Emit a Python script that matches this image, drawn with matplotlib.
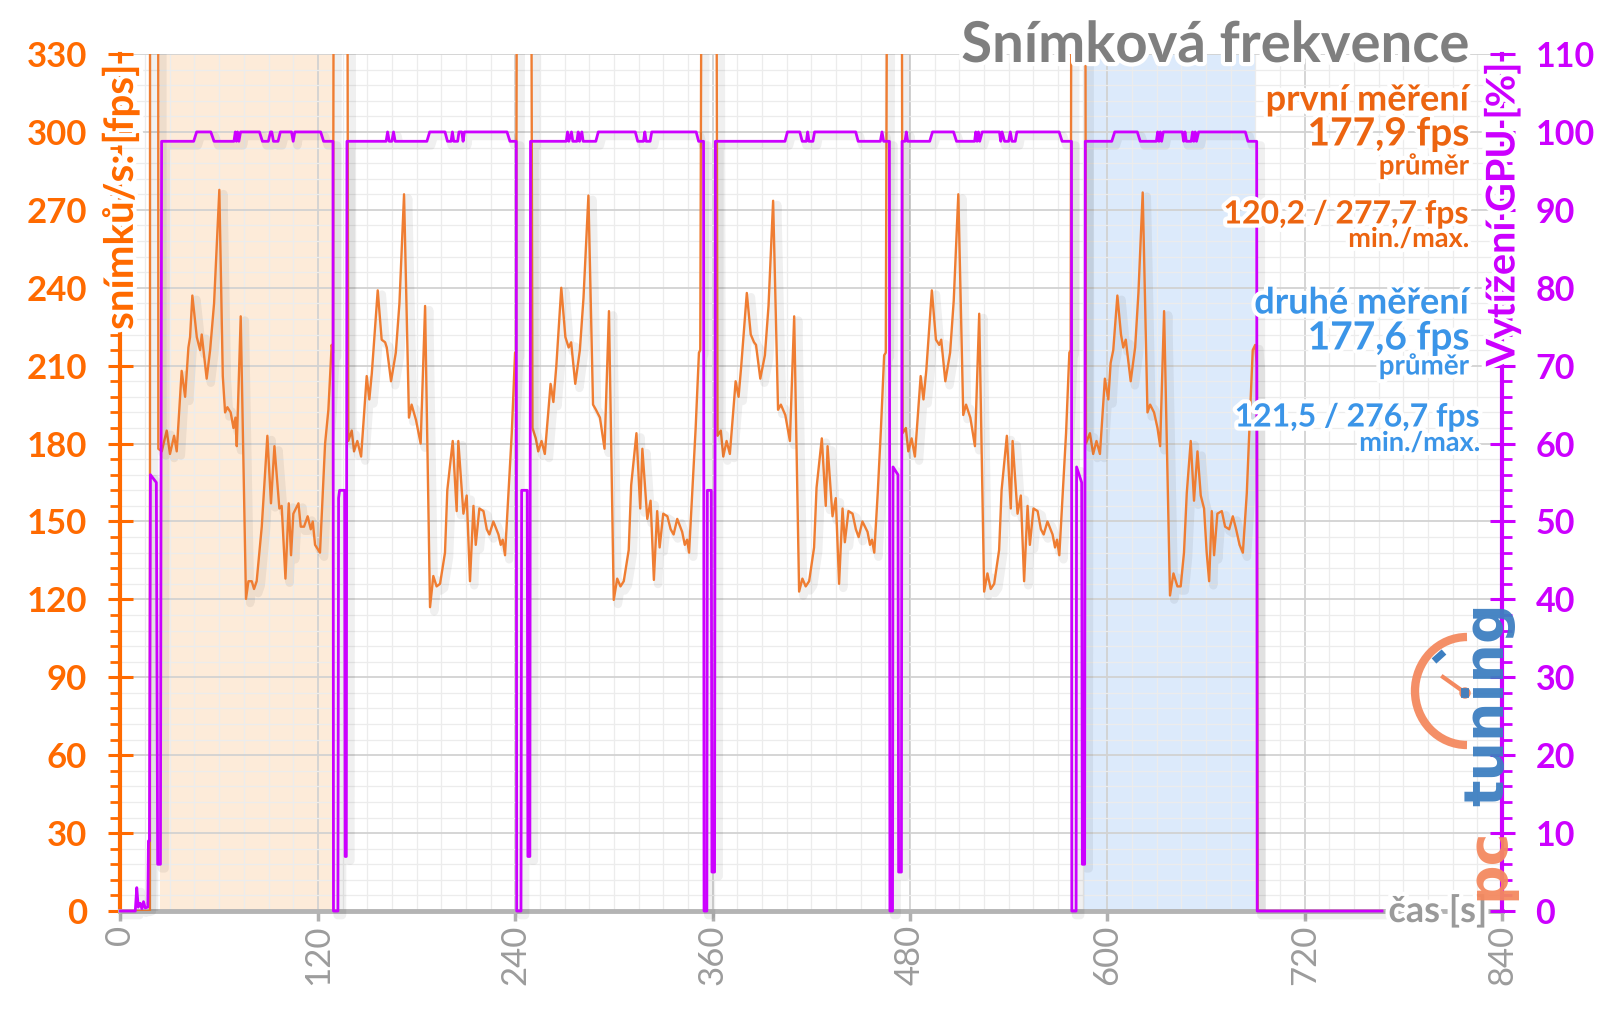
import matplotlib
matplotlib.use("Agg")
import matplotlib.pyplot as plt
import matplotlib.patheffects as pe
import matplotlib.transforms as mtrans
from matplotlib.patches import Arc, Circle
from matplotlib.ticker import MultipleLocator

plt.rcParams['font.family'] = ['Lato', 'DejaVu Sans']

ORANGE = '#ff6a00'
LINE_OR = '#ef7d32'
PURPLE = '#cc00ff'
BLUE = '#3b95e8'
GRAY = '#9c9c9c'

# ---- fps, six runs of the benchmark (time [s], fps) ----
run1 = [(25.1, 177), (28.1, 185), (30.1, 176), (32.6, 183), (34.2, 177), (37.2, 208),
        (39.3, 198), (41.3, 217), (42.3, 221), (43.7, 237), (46.4, 221), (48.4, 216),
        (49.4, 222), (52.4, 205), (54.5, 216), (56.9, 234), (60.1, 277.7), (62.2, 206),
        (63.6, 192), (65.0, 194), (67.0, 192), (68.7, 186), (69.9, 190), (70.7, 179),
        (73.1, 229), (76.3, 120.2), (77.8, 127), (79.8, 127), (81.2, 124), (82.8, 127),
        (85.9, 148), (89.3, 183), (91.5, 157), (93.6, 179), (96.6, 155), (98.0, 156),
        (100.3, 128), (102.3, 157), (103.7, 137), (105.1, 153), (108.2, 157), (109.6, 148),
        (111.6, 148), (113.8, 152), (115.7, 147), (116.9, 150), (118.3, 141), (121.3, 138),
        (123.0, 161), (124.4, 180), (126.4, 193), (128.4, 218), (129.2, 215)]

run2 = [(138.5, 181), (140.6, 185), (142.0, 177), (144.0, 181), (146.3, 175), (149.7, 206),
        (151.3, 197), (152.8, 207), (156.4, 239), (158.8, 220), (160.9, 219), (161.9, 217),
        (164.5, 204), (167.4, 215), (169.6, 234), (172.4, 276), (175.4, 190), (177.0, 195),
        (179.7, 189), (182.5, 180), (185.2, 233), (188.2, 117), (190.2, 129), (192.2, 125),
        (194.3, 126), (197.3, 138), (198.7, 162), (202.0, 181), (204.4, 154), (205.4, 181),
        (208.5, 153), (210.5, 160), (212.5, 127), (214.6, 156), (216.0, 141), (218.2, 155),
        (220.7, 154), (222.7, 147), (224.3, 145), (226.7, 150), (229.8, 145), (231.2, 141),
        (232.4, 143), (233.8, 137), (235.9, 161), (237.9, 184), (239.9, 215), (240.5, 215)]

# runs 3-5 read relative to their start
run3_start, run4_start, run5_start = 250.5, 363.0, 475.5
run3_rel = [(0, 186), (2, 182), (3.5, 177), (5.5, 181), (7.5, 176), (11, 203), (12.7, 196),
            (14.5, 210), (17.5, 240), (20, 221), (22, 217), (23.5, 219), (26, 203), (28.8, 216),
            (31, 236), (34, 275.5), (36.8, 195), (38.6, 193), (41, 190), (43.8, 178), (46.5, 231),
            (49.4, 119.8), (51.5, 128), (53.5, 125), (55.5, 127), (58.5, 139), (60, 164),
            (63.2, 184), (65.5, 155), (66.8, 178), (69.8, 151), (71.8, 158), (73.8, 127.5),
            (75.8, 154), (77.3, 140), (79.5, 153), (82, 152), (84, 147), (85.8, 145), (88, 151),
            (91, 146), (92.6, 141), (94, 143), (95.2, 138), (97.2, 162), (99.2, 186),
            (101.2, 215), (102.0, 216)]
run4_rel = [(0, 183), (2, 185), (3.5, 175), (5.5, 181), (7.5, 176), (11, 204), (12.8, 198),
            (14.3, 209), (17.8, 238), (20.2, 222), (22.2, 219), (23.4, 218), (26, 205), (28.8, 214),
            (31, 233), (33.8, 273.5), (36.8, 193), (38.5, 195), (41.2, 191), (44, 181), (46.6, 229),
            (49.6, 123), (51.6, 128), (53.6, 125), (55.7, 127), (58.7, 140), (60.2, 163),
            (63.4, 182), (65.8, 156), (66.9, 179), (69.9, 152), (71.9, 159), (73.9, 126),
            (76, 155), (77.4, 142), (79.6, 154), (82.1, 153), (84.1, 147), (85.8, 144), (88.1, 150),
            (91.2, 146), (92.7, 141), (93.9, 143), (95.3, 138), (97.4, 161), (99.3, 185),
            (101.3, 214), (102.3, 215)]
run5_rel = [(0, 184), (2, 186), (3.5, 177), (5.5, 182), (7.5, 175), (11, 206), (12.7, 197),
            (14.4, 208), (17.8, 239), (20.3, 220), (22.3, 218), (23.5, 220), (26, 204), (28.9, 215),
            (31.1, 235), (33.9, 276), (36.9, 191), (38.6, 195), (41.2, 190), (44, 179), (46.6, 230),
            (49.6, 123), (51.6, 130), (53.6, 124), (55.7, 126), (58.7, 139), (60.2, 162),
            (63.4, 183), (65.8, 155), (66.9, 181), (69.9, 153), (71.9, 160), (73.9, 127),
            (76, 156), (77.4, 141), (79.6, 155), (82.1, 154), (84.1, 147), (85.8, 145), (88.1, 150),
            (91.2, 145), (92.7, 140), (93.9, 143), (95.3, 137), (97.4, 161), (99.4, 184),
            (101.4, 215), (102.2, 216)]

run6 = [(587.0, 180), (589.4, 184), (591.4, 176), (593.4, 181), (595.5, 176), (598.5, 205),
        (600.6, 197), (602.0, 211), (603.6, 216), (606.1, 237), (608.3, 222), (609.7, 217),
        (611.2, 220), (614.2, 204), (616.9, 217), (618.9, 238), (621.5, 276.7), (624.4, 192),
        (626.0, 195), (628.4, 192), (630.5, 186), (632.1, 179), (634.5, 231), (638.1, 121.5),
        (640.2, 130), (642.6, 125), (644.6, 125), (646.6, 138), (648.3, 161), (650.7, 181),
        (652.7, 158), (654.8, 177), (656.8, 160), (658.8, 155), (660.4, 138), (661.9, 127),
        (663.5, 154), (664.9, 137), (666.9, 153), (669.6, 154), (671.6, 148), (674.1, 147),
        (676.3, 152), (678.3, 147), (680.4, 141), (682.4, 138), (684.8, 161), (686.4, 186),
        (688.4, 216), (689.9, 218), (690.9, 210)]

# loading screens between runs: fps shoots far above the chart (up, down)
fps_lead = [(0, 0), (17.9, 0), (18.1, 1000), (22.8, 1000), (23.0, 178)]
fps_gaps = [(131.3, 136.2), (243.0, 247.3), (356.2, 360.3), (469.2, 473.6), (579.8, 585.5)]
fps_tail = [(691.4, 0), (767.0, 0)]

# ---- GPU load [%] breakpoints ----
gpu_lead = [(0, 0), (9, 0), (9.9, 3), (10.8, 0.5), (12, 1), (13, 0.3), (14, 1.2), (15, 0.4),
            (16.6, 0.5), (17.0, 9), (17.6, 9), (18.2, 56), (21.8, 55), (22.6, 6), (24.3, 6)]
gpu_run1 = [(25, 98.8), (44.5, 98.8), (46.3, 100), (54.9, 100), (56.9, 98.8), (69, 98.8),
            (69.8, 100), (70.5, 98.8), (71.2, 100), (72, 98.8), (73, 100), (84.5, 100),
            (86.3, 98.8), (89.9, 98.8), (91.2, 100), (92, 100), (93, 98.8), (95.8, 98.8),
            (97.2, 100), (104, 100), (105, 98.8), (106, 100), (121.7, 100), (123.5, 98.8),
            (129.2, 98.8)]
gpu_gap1 = [(129.5, 0), (132.2, 0), (132.6, 53), (133.2, 54), (136.3, 54), (136.6, 7), (137.3, 7)]
gpu_run2 = [(137.7, 98.8), (161.5, 98.8), (162.4, 100), (163.4, 98.8), (165, 98.8), (166, 100),
            (167, 98.8), (186.3, 98.8), (188, 100), (197.3, 100), (198.8, 98.8), (201, 98.8),
            (201.8, 100), (202.6, 98.8), (205, 98.8), (205.8, 100), (207.5, 100), (208.3, 98.8),
            (209.1, 100), (235, 100), (236.8, 98.8), (240.6, 98.8)]
gpu_gap2 = [(240.9, 0), (243.5, 0), (243.9, 54), (247.3, 54), (247.7, 7), (248.9, 7)]
gpu_run3 = [(249.3, 98.8), (271, 98.8), (271.8, 100), (272.6, 98.8), (274.2, 100), (275, 98.8),
            (277.5, 98.8), (278.3, 100), (279.1, 98.8), (280.5, 100), (281.3, 98.8), (289, 98.8),
            (290.5, 100), (313, 100), (314.5, 98.8), (318, 98.8), (318.8, 100), (319.6, 98.8),
            (322, 98.8), (323, 100), (350, 100), (351.5, 98.8), (354.5, 98.8)]
gpu_gap3 = [(354.8, 0), (356.5, 0), (356.8, 54), (359.2, 54), (359.6, 5), (361.2, 5)]
gpu_run4 = [(361.7, 98.8), (404, 98.8), (405.5, 100), (413, 100), (414.5, 98.8), (417, 98.8),
            (417.8, 100), (418.6, 98.8), (421, 98.8), (422, 100), (447, 100), (448.5, 98.8),
            (462, 98.8), (463, 100), (464, 98.8), (467.5, 98.8)]
gpu_gap4 = [(467.8, 0), (469.4, 0), (469.7, 57), (472.7, 56), (473.1, 5), (474.8, 5)]
gpu_run5 = [(475.2, 98.8), (477, 98.8), (477.8, 100), (478.6, 98.8), (492, 98.8), (493.7, 100),
            (506.5, 100), (508.3, 98.8), (519.3, 98.8), (520, 100), (520.8, 98.8), (521.6, 100),
            (522.4, 98.8), (523.9, 100), (534.4, 100), (535.2, 98.8), (536, 100), (537.5, 98.8),
            (540, 98.8), (541, 100), (542, 98.8), (544, 98.8), (545, 100), (570.7, 100),
            (572.5, 98.8), (578.2, 98.8)]
gpu_gap5 = [(578.4, 0), (581, 0), (581.3, 57), (584.4, 55), (584.8, 6), (586.2, 6)]
gpu_run6 = [(586.6, 98.8), (602.7, 98.8), (604.5, 100), (618.2, 100), (620, 98.8), (629.8, 98.8),
            (630.6, 100), (631.4, 98.8), (632.2, 100), (633, 98.8), (634, 100), (645.6, 100),
            (646.4, 98.8), (647.2, 100), (648, 98.8), (651, 98.8), (651.8, 100), (652.6, 98.8),
            (653.4, 100), (654.2, 98.8), (655.5, 100), (683.9, 100), (685.5, 98.8), (690.8, 98.8)]
gpu_tail = [(691.1, 0), (767, 0)]

shade_first = (24, 130)
shade_second = (585, 690)

x_ticks = list(range(0, 841, 120))
fps_ticks = list(range(0, 331, 30))
gpu_ticks = list(range(0, 111, 10))

# ---- assemble series ----
runs = [run1, run2,
        [(t + run3_start, v) for t, v in run3_rel],
        [(t + run4_start, v) for t, v in run4_rel],
        [(t + run5_start, v) for t, v in run5_rel],
        run6]
fps_pts = list(fps_lead)
for i, r in enumerate(runs):
    fps_pts += r
    if i < len(fps_gaps):
        up, down = fps_gaps[i]
        fps_pts += [(up, 1000), (down, 1000)]
fps_pts += fps_tail
fps_t = [p[0] for p in fps_pts]
fps_v = [p[1] for p in fps_pts]

gpu_pts = (gpu_lead + gpu_run1 + gpu_gap1 + gpu_run2 + gpu_gap2 + gpu_run3 + gpu_gap3 +
           gpu_run4 + gpu_gap4 + gpu_run5 + gpu_gap5 + gpu_run6 + gpu_tail)
gpu_t = [p[0] for p in gpu_pts]
gpu_v = [p[1] for p in gpu_pts]

# ---- figure ----
fig = plt.figure(figsize=(16, 10.1), dpi=100)
ax = fig.add_axes([0.0753, 0.098, 0.8635, 0.8485])
ax.set_xlim(0, 840)
ax.set_ylim(0, 330)

ax.axvspan(*shade_first, color='#fdebd9', zorder=0.2, lw=0)
ax.axvspan(*shade_second, color='#dceafb', zorder=0.2, lw=0)

ax.xaxis.set_major_locator(MultipleLocator(120))
ax.xaxis.set_minor_locator(MultipleLocator(15))
ax.yaxis.set_minor_locator(MultipleLocator(6))
ax.set_axisbelow(True)
ax.grid(which='major', color='#d2d2d2', lw=1.3)
ax.grid(which='minor', color='#ececec', lw=0.9)

shadow = [pe.SimpleLineShadow(offset=(3, -3), shadow_color='#000000', alpha=0.06, linewidth=6),
          pe.Normal()]
ax.plot(fps_t, fps_v, color=LINE_OR, lw=1.7, zorder=3, path_effects=shadow)

ax.set_xticks(x_ticks)
ax.set_xticklabels([str(v) for v in x_ticks])
ax.set_yticks(fps_ticks)
ax.set_yticklabels([str(v) for v in fps_ticks], fontweight='bold')
ax.tick_params(axis='x', which='major', direction='out', length=7, width=2.5, color='#b0b0b0',
               labelcolor=GRAY, labelsize=25, labelrotation=90, pad=3)
ax.tick_params(axis='x', which='minor', length=0)
ax.tick_params(axis='y', which='major', direction='inout', length=18, width=2.2, color=ORANGE,
               labelcolor=ORANGE, labelsize=25, pad=15)
ax.tick_params(axis='y', which='minor', direction='out', length=7, width=2, color=ORANGE)
for s in ('top', 'right'):
    ax.spines[s].set_visible(False)
ax.spines['left'].set_color(ORANGE)
ax.spines['left'].set_linewidth(3)
ax.spines['bottom'].set_color('#b4b4b4')
ax.spines['bottom'].set_linewidth(3.5)

ax2 = ax.twinx()
ax2.set_ylim(0, 110)
ax2.plot(gpu_t, gpu_v, color=PURPLE, lw=2.0, zorder=4, clip_on=False, path_effects=shadow)
ax2.set_yticks(gpu_ticks)
ax2.set_yticklabels([str(v) for v in gpu_ticks], fontweight='bold')
ax2.yaxis.set_minor_locator(MultipleLocator(2))
ax2.tick_params(axis='y', which='major', direction='inout', length=18, width=2.2, color=PURPLE,
                labelcolor=PURPLE, labelsize=24.5, pad=15)
ax2.tick_params(axis='y', which='minor', direction='out', length=7, width=2, color=PURPLE)
for s in ('top', 'left', 'bottom'):
    ax2.spines[s].set_visible(False)
ax2.spines['right'].set_color(PURPLE)
ax2.spines['right'].set_linewidth(3)

halo = [pe.withStroke(linewidth=6, foreground='white')]

left_tr = mtrans.blended_transform_factory(ax.transAxes, ax.transData)
ax.text(0, 326, 'snímků/s: [fps]', transform=left_tr, rotation=90, ha='center', va='top',
        color=ORANGE, fontsize=29, fontweight='bold', path_effects=halo, zorder=6, clip_on=False)
right_tr = mtrans.blended_transform_factory(ax2.transAxes, ax2.transData)
ax2.text(1, 109, 'Vytížení GPU [%]', transform=right_tr, rotation=90, ha='center', va='top',
         color=PURPLE, fontsize=28.5, fontweight='bold', path_effects=halo, zorder=6, clip_on=False)
ax2.text(831, 0, 'čas [s]', transform=ax2.transData, ha='right', va='center', color='#9a9a9a',
         fontsize=26, fontweight='bold', path_effects=halo, zorder=6, clip_on=False)


def ftext(xpx, ypx, s, color, size):
    fig.text(xpx / 1600, 1 - ypx / 1010, s, ha='right', va='center', color=color,
             fontsize=size, fontweight='bold', path_effects=halo, zorder=10)


ftext(1469, 46, 'Snímková frekvence', '#7f7f7f', 40.5)
ftext(1469, 100, 'první měření', '#ec6410', 26)
ftext(1469, 134, '177,9 fps', '#ec6410', 28)
ftext(1469, 166, 'průměr', '#ec6410', 20)
ftext(1469, 214, '120,2 / 277,7 fps', '#ec6410', 23)
ftext(1469, 239, 'min./max.', '#ec6410', 19.5)
ftext(1469, 303, 'druhé měření', BLUE, 26)
ftext(1469, 338, '177,6 fps', BLUE, 28)
ftext(1469, 366, 'průměr', BLUE, 20)
ftext(1480, 417, '121,5 / 276,7 fps', BLUE, 23)
ftext(1480, 443, 'min./max.', BLUE, 19.5)

# ---- pctuning logo (pixel coordinates) ----
lax = fig.add_axes([0, 0, 1, 1])
lax.set_xlim(0, 1600)
lax.set_ylim(1010, 0)
lax.axis('off')
lax.patch.set_alpha(0)
logo_or = '#f4895f'
logo_bl = '#3d7fc1'
lax.add_patch(Arc((1467, 691), 104, 108, theta1=90, theta2=270, lw=6, color=logo_or, alpha=0.95))
lax.plot([1434, 1444], [661, 652], color=logo_bl, lw=5, solid_capstyle='butt')
lax.plot([1443, 1464], [677, 692], color=logo_or, lw=3)
lax.add_patch(Circle((1465, 693), 5, color=logo_or))
lax.text(1488, 900, 'pc', rotation=90, ha='center', va='bottom', color=logo_or,
         fontsize=40, fontweight='bold', family='DejaVu Sans', alpha=0.95)
lax.text(1488, 806, 'tuning', rotation=90, ha='center', va='bottom', color=logo_bl,
         fontsize=40, fontweight='bold', family='DejaVu Sans', alpha=0.95)

fig.savefig('out.png', dpi=100)
